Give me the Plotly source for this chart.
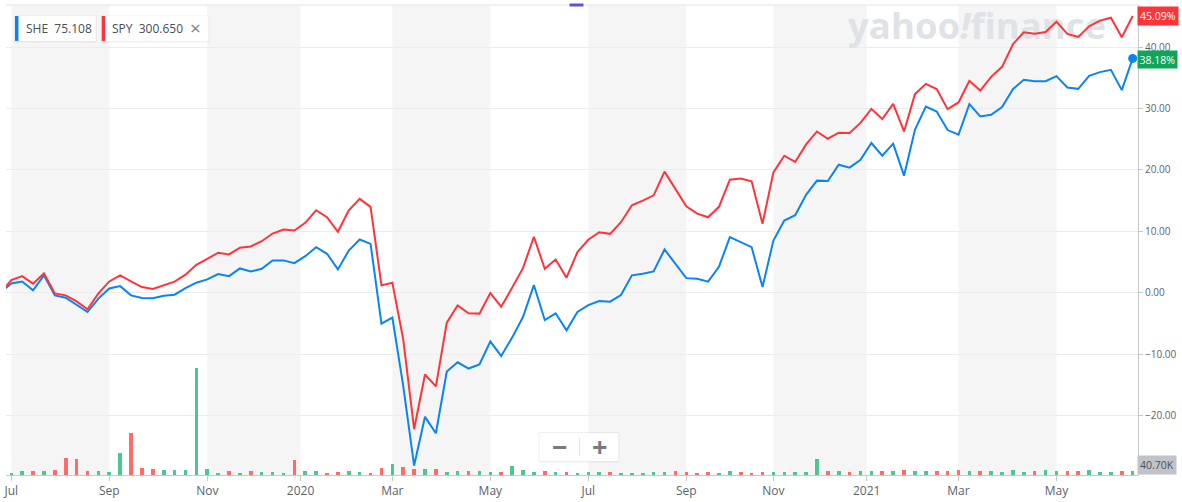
import pandas as pd
import plotly.graph_objects as go

# ---------------- data ----------------
dates = pd.date_range("2019-06-24", periods=105, freq="7D")  # weekly

spy_pct = [0,
    2.05, 2.70, 1.47, 3.13, -0.11, -0.44, -1.42, -2.72, -0.11, 1.83,
    2.82, 1.83, 0.91, 0.59, 1.19, 1.79, 2.93, 4.55, 5.52, 6.51,
    6.23, 7.32, 7.53, 8.39, 9.64, 10.30, 10.13, 11.39, 13.43, 12.29,
    9.92, 13.43, 15.28, 13.99, 1.19, 1.63, -7.60, -22.22, -13.33, -15.28,
    -4.88, -2.06, -3.36, -3.41, -0.07, -2.28, 0.81, 4.00, 9.11, 3.90,
    5.42, 2.44, 6.61, 8.63, 9.85, 9.59, 11.48, 14.24, 15.01, 15.87,
    19.73, 16.91, 14.08, 12.89, 12.29, 13.99, 18.42, 18.59, 18.15, 11.22,
    19.61, 22.32, 21.31, 24.16, 26.27, 25.09, 26.07, 26.02, 27.67, 29.95,
    28.29, 30.78, 26.27, 32.35, 34.03, 33.17, 29.91, 31.00, 34.52, 32.94,
    35.17, 36.80, 40.49, 42.44, 42.21, 42.49, 44.16, 42.16, 41.68, 43.41,
    44.33, 44.81, 41.63, 45.09]

she_pct = [0,
    1.51, 1.83, 0.38, 2.82, -0.44, -0.81, -2.01, -3.15, -0.97, 0.69,
    1.07, -0.44, -0.88, -0.92, -0.49, -0.33, 0.74, 1.63, 2.16, 3.03,
    2.70, 3.95, 3.46, 3.90, 5.26, 5.26, 4.81, 5.95, 7.42, 6.34,
    3.79, 6.87, 8.67, 7.96, -5.04, -4.07, -15.18, -28.17, -20.23, -22.91,
    -12.84, -11.34, -12.36, -11.70, -7.96, -10.31, -7.32, -3.97, 1.24, -4.45,
    -3.36, -6.13, -3.15, -2.03, -1.37, -1.47, -0.39, 2.82, 3.08, 3.46,
    7.04, 4.76, 2.37, 2.28, 1.79, 4.23, 9.04, 8.23, 7.42, 0.91,
    8.50, 11.75, 12.62, 15.94, 18.26, 18.21, 20.86, 20.37, 21.67, 24.39,
    22.32, 24.28, 19.07, 26.55, 30.34, 29.53, 26.50, 25.74, 30.73, 28.71,
    28.99, 30.24, 33.17, 34.69, 34.47, 34.47, 35.28, 33.43, 33.22, 35.33,
    35.94, 36.31, 33.01, 38.18]

# SHE weekly volume, thousands (from first visible week)
vol_k = [25, 41, 40, 41, 52, 184, 172, 41, 40, 30,
         238, 459, 74, 63, 52, 51, 52, 1177, 63, 19,
         41, 19, 40, 30, 29, 19, 162, 41, 40, 19,
         30, 41, 30, 19, 74, 118, 88, 63, 69, 69,
         30, 41, 40, 41, 30, 29, 102, 52, 30, 41,
         29, 30, 19, 30, 29, 30, 19, 18, 19, 30,
         29, 41, 30, 19, 30, 19, 41, 29, 19, 30,
         30, 29, 30, 30, 173, 41, 40, 30, 41, 41,
         40, 41, 52, 41, 40, 41, 41, 52, 41, 40,
         41, 30, 52, 29, 41, 52, 40, 41, 41, 52,
         30, 29, 41, 40.7]
vol_dir = ("ggrgrrrrgg" "grrrgggggg" "rgrgggrggr" "rggrrgrrgr" "ggrggrgggr"
           "grgggrgggg" "grrrrggrrr" "gggggrgrgg" "rgrggrrrgr" "ggggrggrrg" "ggrg")

tick_dates = ["2019-07-01", "2019-09-02", "2019-11-04", "2020-01-03", "2020-03-02", "2020-05-04",
              "2020-07-06", "2020-09-07", "2020-11-02", "2021-01-01", "2021-03-01", "2021-05-03"]
tick_text = ["Jul", "Sep", "Nov", "2020", "Mar", "May", "Jul", "Sep", "Nov", "2021", "Mar", "May"]
y_ticks = [-20, -10, 0, 10, 20, 30, 40]

she_price = "75.108"
spy_price = "300.650"
vol_label = "40.70K"

# ---------------- styling / geometry ----------------
FONT = "Open Sans"
BLUE = "#0a84f0"
RED = "#ff333a"
X0, X1, Y0, Y1 = 3, 1138, 5, 476  # plot area in pixels


def px(x):
    return (x - X0) / (X1 - X0)


def py(y):
    return (Y1 - y) / (Y1 - Y0)


vol_dates = dates[1:]
vol_colors = ["#4cc790" if c == "g" else "#ff6b6b" for c in vol_dir]

fig = go.Figure()

# watermark (drawn under the lines)
fig.add_trace(go.Scatter(
    x=[pd.Timestamp("2019-07-01") + pd.Timedelta(days=621)], y=[42.9],
    mode="text", text=["yahoo<i>!</i>finance"],
    textfont=dict(family=FONT, size=36.5, color="#dfe2e7", weight="bold"),
    hoverinfo="skip", showlegend=False))

fig.add_trace(go.Scatter(x=dates, y=she_pct, mode="lines", name="SHE",
                         line=dict(color=BLUE, width=2), showlegend=False))
fig.add_trace(go.Scatter(x=dates, y=spy_pct, mode="lines", name="SPY",
                         line=dict(color=RED, width=2), showlegend=False))
fig.add_trace(go.Scatter(x=[dates[-1]], y=[she_pct[-1]], mode="markers",
                         marker=dict(color=BLUE, size=9), showlegend=False))

fig.add_trace(go.Bar(x=vol_dates, y=[v * 1000 for v in vol_k], yaxis="y2",
                     marker=dict(color=vol_colors, line=dict(width=0)),
                     width=2.3 * 24 * 3600 * 1000, showlegend=False))

shapes = []
# alternating month bands
for a, b in [(0, 1), (2, 3), (4, 5), (6, 7), (8, 9), (10, 11)]:
    shapes.append(dict(type="rect", xref="x", yref="paper", x0=tick_dates[a], x1=tick_dates[b],
                       y0=0, y1=1, fillcolor="#f5f5f5", line=dict(width=0), layer="below"))
# top border
shapes.append(dict(type="line", xref="paper", yref="paper", x0=0, x1=1, y0=1, y1=1,
                   line=dict(color="#e3e3e3", width=1)))
# small handle at top
shapes.append(dict(type="rect", xref="paper", yref="paper", x0=px(568), x1=px(582),
                   y0=py(6.5), y1=py(3.5), fillcolor="#5b52d6", line=dict(width=0)))


def chip(x0, x1, color):
    shapes.append(dict(type="rect", xref="paper", yref="paper", x0=px(x0 - 1), x1=px(x1 + 1),
                       y0=py(42.5), y1=py(15.5), fillcolor="rgba(0,0,0,0.06)", line=dict(width=0)))
    shapes.append(dict(type="rect", xref="paper", yref="paper", x0=px(x0), x1=px(x1),
                       y0=py(41), y1=py(16), fillcolor="white", line=dict(width=0)))
    shapes.append(dict(type="rect", xref="paper", yref="paper", x0=px(x0), x1=px(x0 + 3.5),
                       y0=py(41), y1=py(16), fillcolor=color, line=dict(width=0)))


chip(12, 93, BLUE)
chip(99, 206, RED)

# zoom buttons
shapes.append(dict(type="rect", xref="paper", yref="paper", x0=px(537), x1=px(618),
                   y0=py(463.5), y1=py(433), fillcolor="rgba(0,0,0,0.06)", line=dict(width=0)))
shapes.append(dict(type="rect", xref="paper", yref="paper", x0=px(538), x1=px(617),
                   y0=py(462), y1=py(434), fillcolor="white", line=dict(width=0)))
shapes.append(dict(type="line", xref="paper", yref="paper", x0=px(578), x1=px(578),
                   y0=py(457), y1=py(439), line=dict(color="#e2e2e2", width=1)))

annotations = [
    dict(xref="paper", yref="paper", x=px(21.5), y=py(28.5), xanchor="left", yanchor="middle",
         text=f"SHE&nbsp;&nbsp;{she_price}", showarrow=False,
         font=dict(family=FONT, size=12, color="#464e56")),
    dict(xref="paper", yref="paper", x=px(107.5), y=py(28.5), xanchor="left", yanchor="middle",
         text=f"SPY&nbsp;&nbsp;{spy_price}", showarrow=False,
         font=dict(family=FONT, size=12, color="#464e56")),
    dict(xref="paper", yref="paper", x=px(193.5), y=py(28.5), xanchor="center", yanchor="middle",
         text="×", showarrow=False, font=dict(family=FONT, size=19, color="#7d858c")),
    dict(xref="paper", yref="paper", x=px(557.5), y=py(447.5), xanchor="center", yanchor="middle",
         text="<b>−</b>", showarrow=False, font=dict(family=FONT, size=27, color="#7a7a7a")),
    dict(xref="paper", yref="paper", x=px(598), y=py(447.5), xanchor="center", yanchor="middle",
         text="<b>+</b>", showarrow=False, font=dict(family=FONT, size=27, color="#7a7a7a")),
    dict(xref="paper", yref="y", x=1, y=spy_pct[-1], xanchor="left", yanchor="middle", xshift=-1,
         text=f"{spy_pct[-1]:.2f}%", showarrow=False, bgcolor=RED, borderpad=2,
         font=dict(family=FONT, size=10.5, color="white")),
    dict(xref="paper", yref="y", x=1, y=she_pct[-1], xanchor="left", yanchor="middle", xshift=-1,
         yshift=-1, text=f"{she_pct[-1]:.2f}%", showarrow=False, bgcolor="#0ea557", borderpad=1.5,
         font=dict(family=FONT, size=10.5, color="white")),
    dict(xref="paper", yref="paper", x=1, y=0, xanchor="left", yanchor="bottom", xshift=-1,
         text=vol_label, showarrow=False, bgcolor="#c0c4ca", borderpad=2,
         font=dict(family=FONT, size=10.5, color="#4a5158")),
]

fig.update_layout(
    width=1182, height=502,
    margin=dict(l=X0, r=1182 - X1, t=Y0, b=502 - Y1),
    paper_bgcolor="white", plot_bgcolor="white",
    showlegend=False, bargap=0,
    font=dict(family=FONT),
    xaxis=dict(type="date", range=["2019-06-27 14:24", "2021-06-24 10:00"],
               tickvals=tick_dates, ticktext=tick_text,
               showgrid=False, zeroline=False,
               showline=True, linecolor="#c9c9c9", linewidth=1,
               ticks="outside", ticklen=5, tickcolor="#c9c9c9",
               tickfont=dict(family=FONT, size=12, color="#5b636a")),
    yaxis=dict(range=[-29.71, 46.88], side="right",
               tickvals=y_ticks, ticksuffix="%", tickformat=".2f",
               showgrid=True, gridcolor="#ececec", zeroline=False,
               showline=True, linecolor="#c9c9c9", linewidth=1,
               ticks="outside", ticklen=4, tickcolor="#c9c9c9",
               tickfont=dict(family=FONT, size=10, color="#5b636a")),
    yaxis2=dict(overlaying="y", range=[0, 5.18e6], visible=False, showgrid=False),
    shapes=shapes,
    annotations=annotations,
)

fig.write_html("out.html", config={"displayModeBar": False},
               post_script="document.body.style.margin='0px';")
